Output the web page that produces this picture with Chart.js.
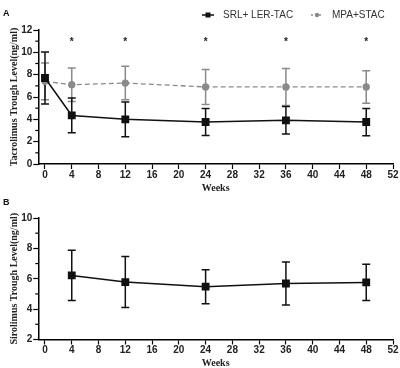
<!DOCTYPE html>
<html>
<head>
<meta charset="utf-8">
<script src="https://cdn.jsdelivr.net/npm/chart.js@4.4.1/dist/chart.umd.min.js"></script>
<style>
    body { margin: 0; background: #fff; width: 400px; height: 368px; overflow: hidden; position: relative; }
    .wrap { position: absolute; left: 0; width: 400px; }
    .panel-label { position: absolute; left: 3px; font: bold 9px "Liberation Sans", Arial, sans-serif; color: #111; }
</style>
</head>
<body>
<div class="wrap" style="top:0;height:200px"><canvas id="chart-a"></canvas></div>
<div class="wrap" style="top:200px;height:170px"><canvas id="chart-b"></canvas></div>
<div class="panel-label" style="top:8px">A</div>
<div class="panel-label" style="top:197px">B</div>
<script>
// Panel A: tacrolimus trough levels
const weeksA = [0, 4, 12, 24, 36, 48];
const srlTac = [7.7, 4.35, 4.0, 3.76, 3.91, 3.76];
const srlTacErr = [2.33, 1.55, 1.55, 1.2, 1.23, 1.22];
const mpaStac = [7.4, 7.1, 7.25, 6.9, 6.9, 6.9];
const mpaStacErr = [1.65, 1.5, 1.5, 1.57, 1.65, 1.45];
const sigWeeks = [4, 12, 24, 36, 48];
const sigLevel = 11.1;

// Panel B: sirolimus trough levels
const weeksB = [4, 12, 24, 36, 48];
const srlTrough = [6.22, 5.78, 5.48, 5.69, 5.76];
const srlTroughErr = [1.65, 1.68, 1.12, 1.42, 1.2];

const weekTicks = { min: -1, max: 52, step: 4 };
const legendLabels = ["SRL+ LER-TAC", "MPA+STAC"];

const BLACK = "#111111";
const GRAY = "#8a8a8a";

function toPoints(xs, ys) {
    return xs.map((x, i) => ({ x: x, y: ys[i] }));
}

// error bars (mean +/- sd), drawn under the markers
const errorBars = {
    id: "errorBars",
    beforeDatasetsDraw(chart) {
        const ctx = chart.ctx;
        const xs = chart.scales.x, ys = chart.scales.y;
        chart.data.datasets.slice().reverse().forEach((ds) => {
            if (!ds.errors) return;
            ctx.save();
            ctx.strokeStyle = ds.borderColor;
            ctx.lineWidth = 1.5;
            ds.data.forEach((p, i) => {
                const x = xs.getPixelForValue(p.x);
                const top = ys.getPixelForValue(p.y + ds.errors[i]);
                const bot = ys.getPixelForValue(p.y - ds.errors[i]);
                ctx.beginPath();
                ctx.moveTo(x, top); ctx.lineTo(x, bot);
                ctx.moveTo(x - 4, top); ctx.lineTo(x + 4, top);
                ctx.moveTo(x - 4, bot); ctx.lineTo(x + 4, bot);
                ctx.stroke();
            });
            ctx.restore();
        });
    },
};

// half-step minor ticks on the y axis
const minorTicks = {
    id: "minorTicks",
    afterDraw(chart) {
        const ctx = chart.ctx, y = chart.scales.y;
        const left = chart.chartArea.left;
        ctx.save();
        ctx.strokeStyle = "#000";
        ctx.lineWidth = 1.2;
        for (let v = y.min + 1; v < y.max; v += 2) {
            const py = y.getPixelForValue(v);
            ctx.beginPath();
            ctx.moveTo(left - 3, py); ctx.lineTo(left, py);
            ctx.stroke();
        }
        ctx.restore();
    },
};

// significance stars (panel A)
const sigStars = {
    id: "sigStars",
    afterDraw(chart, args, opts) {
        if (!opts.weeks) return;
        const ctx = chart.ctx;
        ctx.save();
        ctx.fillStyle = "#222";
        ctx.font = "bold 10px 'Liberation Sans', Arial, sans-serif";
        ctx.textAlign = "center";
        ctx.textBaseline = "middle";
        opts.weeks.forEach((w) => {
            ctx.fillText("*", chart.scales.x.getPixelForValue(w), chart.scales.y.getPixelForValue(opts.level) + 2);
        });
        ctx.restore();
    },
};

// legend: line + marker, like the original figure
const lineLegend = {
    id: "lineLegend",
    afterDraw(chart, args, opts) {
        if (!opts.show) return;
        const ctx = chart.ctx;
        const items = [
            { x: 202, color: BLACK, dash: [], square: true, text: legendLabels[0] },
            { x: 311, color: GRAY, dash: [2, 2], square: false, text: legendLabels[1] },
        ];
        const y = 15;
        ctx.save();
        items.forEach((it) => {
            ctx.strokeStyle = it.color;
            ctx.fillStyle = it.color;
            ctx.lineWidth = 1.5;
            ctx.setLineDash(it.dash);
            ctx.beginPath();
            ctx.moveTo(it.x, y); ctx.lineTo(it.x + 12, y);
            ctx.stroke();
            ctx.setLineDash([]);
            if (it.square) {
                ctx.fillRect(it.x + 3.5, y - 2.5, 5, 5);
            } else {
                ctx.beginPath();
                ctx.arc(it.x + 6, y, 2.2, 0, Math.PI * 2);
                ctx.fill();
            }
            ctx.fillStyle = "#333";
            ctx.font = "10px 'Liberation Sans', Arial, sans-serif";
            ctx.textBaseline = "middle";
            ctx.fillText(it.text, it.x + 21, y);
        });
        ctx.restore();
    },
};

function buildOptions(cfg) {
    return {
        responsive: true,
        maintainAspectRatio: false,
        animation: false,
        layout: { padding: { top: cfg.padTop, right: 7, bottom: 0, left: 0 } },
        plugins: {
            legend: { display: false },
            tooltip: { enabled: false },
            sigStars: cfg.stars || {},
            lineLegend: { show: !!cfg.legend },
        },
        scales: {
            x: {
                type: "linear",
                min: weekTicks.min,
                max: weekTicks.max,
                afterFit: (s) => { s.height = cfg.xHeight; },
                ticks: {
                    stepSize: weekTicks.step,
                    includeBounds: false,
                    color: "#222",
                    padding: 0,
                    font: { family: "'Liberation Sans', Arial, sans-serif", size: 10, weight: "bold" },
                },
                grid: { drawOnChartArea: false, drawTicks: true, tickLength: 5, tickColor: "#000", tickWidth: 1.2 },
                border: { display: true, color: "#000", width: 1.5 },
                title: {
                    display: true,
                    text: "Weeks",
                    color: "#222",
                    padding: { top: 0, bottom: cfg.titlePad },
                    font: { family: "'Liberation Serif', 'Times New Roman', serif", size: 10, weight: "bold" },
                },
            },
            y: {
                min: cfg.yMin,
                max: cfg.yMax,
                afterFit: (s) => { s.width = 38.3; },
                ticks: {
                    stepSize: 2,
                    color: "#222",
                    padding: 1,
                    font: { family: "'Liberation Sans', Arial, sans-serif", size: 10, weight: "bold" },
                },
                grid: { drawOnChartArea: false, drawTicks: true, tickLength: 5, tickColor: "#000", tickWidth: 1.2 },
                border: { display: true, color: "#000", width: 1.5 },
                title: {
                    display: true,
                    text: cfg.yTitle,
                    color: "#222",
                    padding: { top: 8, bottom: 0 },
                    font: { family: "'Liberation Serif', 'Times New Roman', serif", size: 10, weight: "bold" },
                },
            },
        },
    };
}

const chartA = new Chart(document.getElementById("chart-a"), {
    type: "scatter",
    data: {
        datasets: [
            {
                label: legendLabels[0],
                data: toPoints(weeksA, srlTac),
                errors: srlTacErr,
                showLine: true,
                borderColor: BLACK,
                backgroundColor: BLACK,
                borderWidth: 1.5,
                pointStyle: "rect",
                pointRadius: 4.5,
            },
            {
                label: legendLabels[1],
                data: toPoints(weeksA, mpaStac),
                errors: mpaStacErr,
                showLine: true,
                borderColor: GRAY,
                backgroundColor: GRAY,
                borderWidth: 1.3,
                borderDash: [5, 3],
                pointStyle: "circle",
                pointRadius: 3,
            },
        ],
    },
    options: buildOptions({
        padTop: 30, xHeight: 36, titlePad: 6, yMin: 0, yMax: 12,
        yTitle: "Tacrolimus Trough Level(ng/ml)",
        stars: { weeks: sigWeeks, level: sigLevel },
        legend: true,
    }),
    plugins: [errorBars, minorTicks, sigStars, lineLegend],
});

const chartB = new Chart(document.getElementById("chart-b"), {
    type: "scatter",
    data: {
        datasets: [
            {
                label: legendLabels[0],
                data: toPoints(weeksB, srlTrough),
                errors: srlTroughErr,
                showLine: true,
                borderColor: BLACK,
                backgroundColor: BLACK,
                borderWidth: 1.5,
                pointStyle: "rect",
                pointRadius: 4.5,
            },
        ],
    },
    options: buildOptions({
        padTop: 18, xHeight: 30.5, titlePad: 1, yMin: 2, yMax: 10,
        yTitle: "Sirolimus Trough Level(ng/ml)",
    }),
    plugins: [errorBars, minorTicks],
});
</script>
</body>
</html>
